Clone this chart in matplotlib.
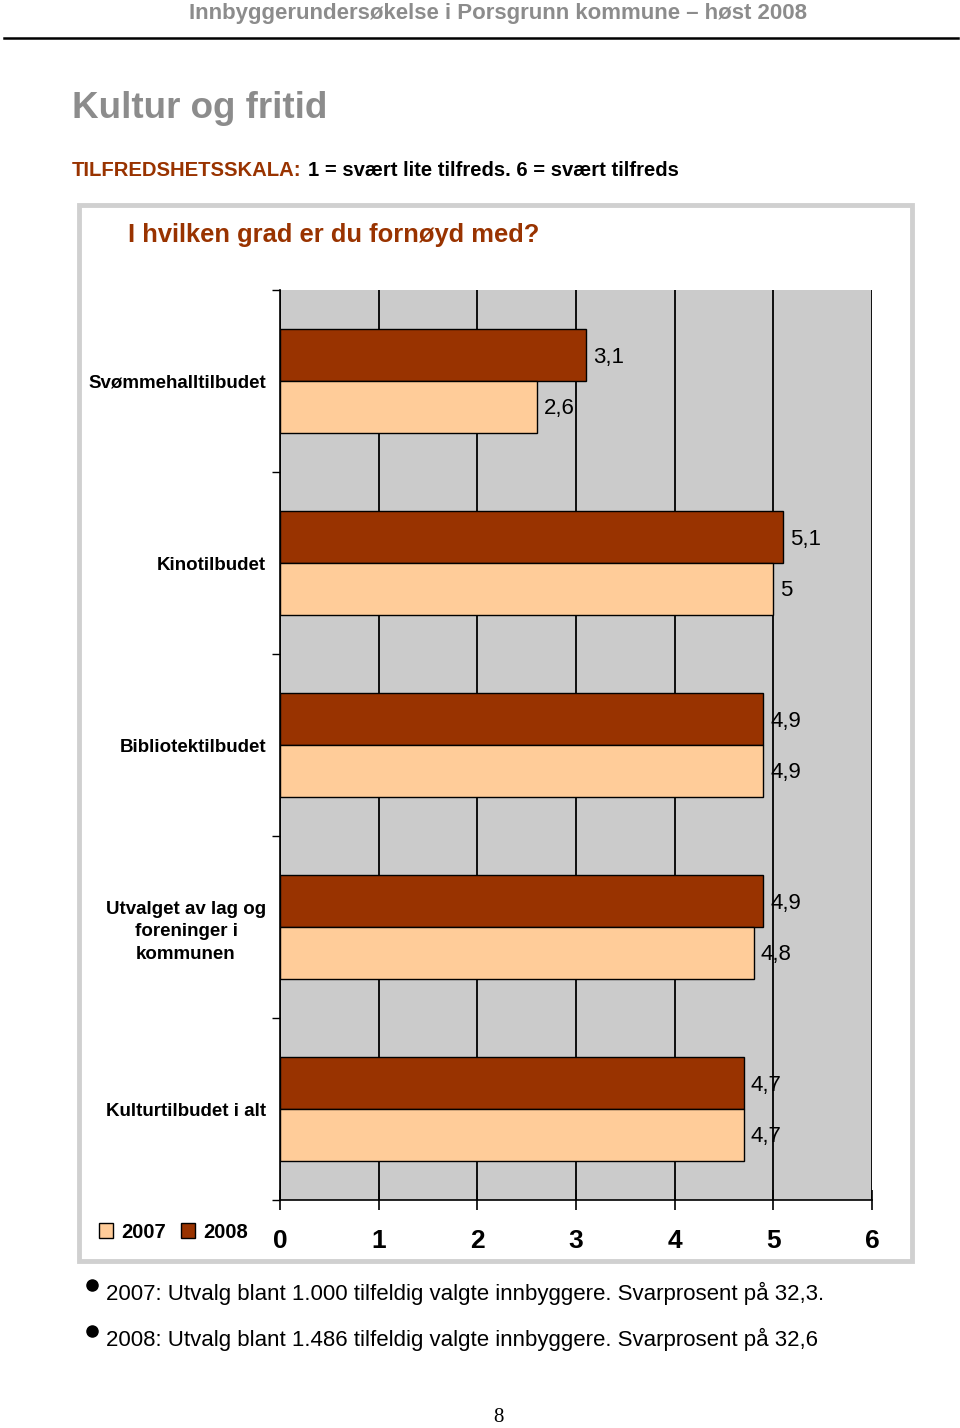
import matplotlib
matplotlib.use("Agg")
import matplotlib.pyplot as plt
import matplotlib.patches as mpatches

W, H = 960, 1428

# data (top to bottom in the chart)
CATEGORIES = ['Svømmehalltilbudet', 'Kinotilbudet', 'Bibliotektilbudet',
              'Utvalget av lag og\nforeninger i\nkommunen', 'Kulturtilbudet i alt']
VALUES_2008 = [3.1, 5.1, 4.9, 4.9, 4.7]
VALUES_2007 = [2.6, 5.0, 4.9, 4.8, 4.7]
X_TICKS = [0, 1, 2, 3, 4, 5, 6]
SERIES_NAMES = ['2007', '2008']

COLOR_2007 = '#FFCC99'
COLOR_2008 = '#993300'
DARK_RED = '#993300'
GREY_TEXT = '#8c8c8c'

SANS = ['Liberation Sans', 'DejaVu Sans']


def fx(px):
    return px / W


def fy(py):
    return 1 - py / H


def fmt(v):
    return ('%g' % v).replace('.', ',')


def main():
    fig = plt.figure(figsize=(W / 100, H / 100), dpi=100)

    # page header
    fig.text(fx(498), fy(13), 'Innbyggerundersøkelse i Porsgrunn kommune – høst 2008',
             ha='center', va='center', fontsize=16, fontweight='bold', color=GREY_TEXT, family=SANS)
    fig.add_artist(plt.Line2D([fx(4), fx(958)], [fy(38), fy(38)], color='black', lw=1.8))

    fig.text(fx(72), fy(108), 'Kultur og fritid', ha='left', va='center',
             fontsize=26.5, fontweight='bold', color=GREY_TEXT, family=SANS)

    t1 = fig.text(fx(72), fy(170), 'TILFREDSHETSSKALA:', ha='left', va='center',
                  fontsize=14.6, fontweight='bold', color=DARK_RED, family=SANS)
    fig.canvas.draw()
    bb = t1.get_window_extent()
    fig.text(bb.x1 / W + fx(6), fy(170), '1 = svært lite tilfreds. 6 = svært tilfreds', ha='left', va='center',
             fontsize=14.6, fontweight='bold', color='black', family=SANS)

    # chart frame
    fig.add_artist(mpatches.Rectangle((fx(79), fy(1261)), fx(912 - 79), (1261 - 205) / H,
                                      transform=fig.transFigure, fill=False,
                                      edgecolor='#d0d0d0', lw=3.5))
    fig.text(fx(128), fy(235), 'I hvilken grad er du fornøyd med?', ha='left', va='center',
             fontsize=18.4, fontweight='bold', color=DARK_RED, family=SANS)

    ax = fig.add_axes([fx(280), fy(1200), fx(872 - 280), (1200 - 290) / H])
    ax.set_facecolor('#cbcbcb')

    y = list(range(len(CATEGORIES)))
    bh = 0.285
    y08 = [i - bh / 2 for i in y]
    y07 = [i + bh / 2 for i in y]
    ax.barh(y08, VALUES_2008, height=bh, color=COLOR_2008, edgecolor='black', lw=1, zorder=3)
    ax.barh(y07, VALUES_2007, height=bh, color=COLOR_2007, edgecolor='black', lw=1, zorder=3)

    for yy, v in zip(y08, VALUES_2008):
        ax.annotate(fmt(v), (v, yy), xytext=(7, -2), textcoords='offset pixels',
                    ha='left', va='center', fontsize=16, family=SANS, zorder=4)
    for yy, v in zip(y07, VALUES_2007):
        ax.annotate(fmt(v), (v, yy), xytext=(7, -2), textcoords='offset pixels',
                    ha='left', va='center', fontsize=16, family=SANS, zorder=4)

    ax.set_xlim(0, 6)
    ax.set_ylim(len(CATEGORIES) - 0.5, -0.5)
    ax.set_xticks(X_TICKS)
    ax.set_xticklabels([str(t) for t in X_TICKS], fontsize=19, fontweight='bold', family=SANS)
    ax.tick_params(axis='x', direction='inout', length=14, width=1.2, pad=14)
    ax.grid(axis='x', color='black', lw=1.3, zorder=1)
    ax.set_axisbelow(True)

    ax.set_yticks(y)
    ax.set_yticklabels(CATEGORIES, fontsize=13.5, fontweight='bold', family=SANS,
                       ha='right', multialignment='center', linespacing=1.45)
    ax.tick_params(axis='y', length=0, pad=10)
    ax.set_yticks([i - 0.5 for i in range(len(CATEGORIES) + 1)], minor=True)
    ax.tick_params(axis='y', which='minor', length=6, width=1)

    for s in ['top', 'right']:
        ax.spines[s].set_visible(False)
    ax.spines['left'].set_linewidth(1.2)
    ax.spines['bottom'].set_linewidth(1.2)

    handles = [mpatches.Patch(facecolor=COLOR_2007, edgecolor='black'),
               mpatches.Patch(facecolor=COLOR_2008, edgecolor='black')]
    fig.legend(handles, SERIES_NAMES, loc='center left', bbox_to_anchor=(fx(99), fy(1232)),
               ncol=2, frameon=False, handlelength=0.7, handleheight=0.7,
               columnspacing=0.75, handletextpad=0.4, borderpad=0, borderaxespad=0,
               prop={'size': 14.5, 'weight': 'bold', 'family': SANS})

    # notes
    notes = ['2007: Utvalg blant 1.000 tilfeldig valgte innbyggere. Svarprosent på 32,3.',
             '2008: Utvalg blant 1.486 tilfeldig valgte innbyggere. Svarprosent på 32,6']
    for py, note in zip([1293, 1339], notes):
        fig.add_artist(plt.Line2D([fx(92)], [fy(py - 8)], marker='o', markersize=8,
                                  color='black', transform=fig.transFigure))
        fig.text(fx(106), fy(py), note, ha='left', va='center', fontsize=16, family=SANS)

    fig.text(fx(498), fy(1418), '8', ha='center', va='center', fontsize=15, family=['Liberation Serif'])

    fig.savefig('out.png', dpi=100)


if __name__ == '__main__':
    main()
